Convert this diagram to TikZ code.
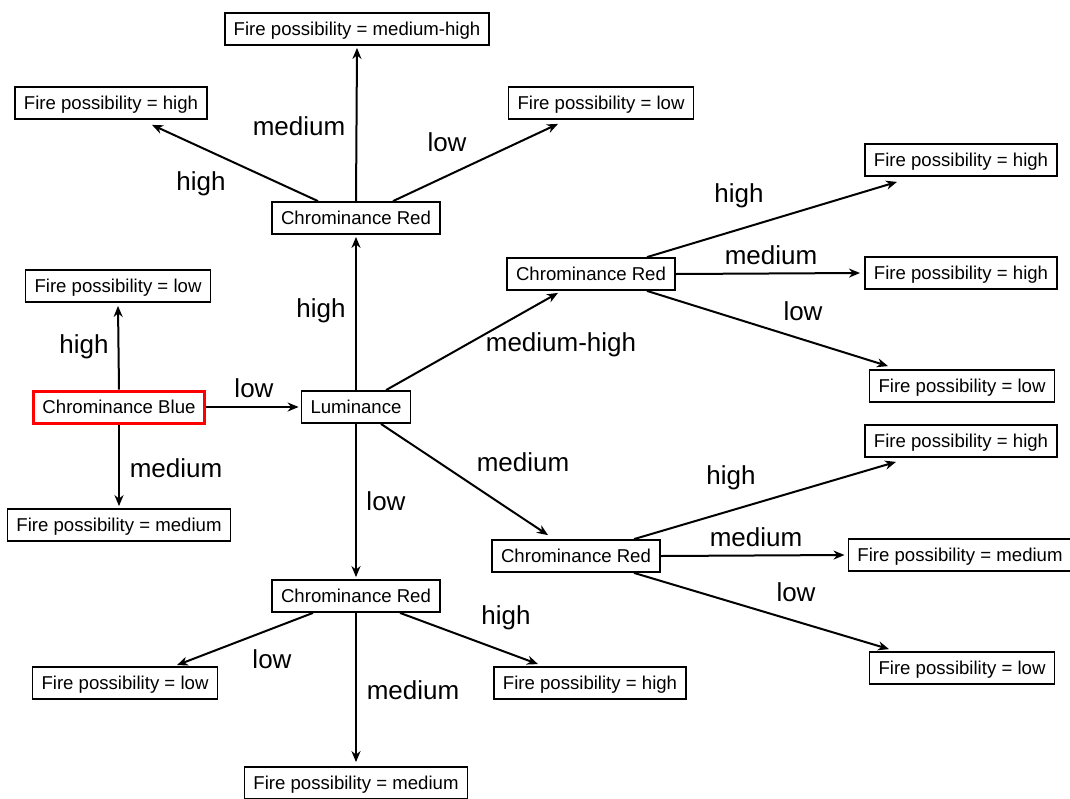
\documentclass[tikz,border=0pt]{standalone}
\usepackage{fontspec}
\setmainfont{Liberation Sans}
\usetikzlibrary{arrows.meta}

\begin{document}
\begin{tikzpicture}[x=1pt,y=-1pt,
  box/.style={draw,line width=1.8pt,font=\fontsize{18.6}{20}\selectfont,
    inner xsep=9pt,inner ysep=0pt,minimum height=32pt,
    text height=14.75pt,text depth=2.75pt},
  root/.style={box,draw=red,line width=3pt},
  edge/.style={line width=2pt,-{Stealth[length=11pt,width=9pt,inset=3.5pt]}},
  lbl/.style={font=\fontsize{26}{28}\selectfont,inner sep=0pt}]
\useasboundingbox (0,0) rectangle (1070,798);

% decision nodes
\node[root] (cb)  at (119,407) {Chrominance Blue};
\node[box]  (lum) at (356,407) {Luminance};
\node[box]  (crT) at (356,218) {Chrominance Red};
\node[box]  (crR) at (591,274) {Chrominance Red};
\node[box]  (crL) at (576,556) {Chrominance Red};
\node[box]  (crB) at (356,596) {Chrominance Red};

% leaves
\node[box] (fLlow)  at (118,286) {Fire possibility = low};
\node[box] (fLmed)  at (119,525) {Fire possibility = medium};
\node[box] (fTmh)   at (357,29)  {Fire possibility = medium-high};
\node[box] (fThigh) at (111,103) {Fire possibility = high};
\node[box] (fTlow)  at (601,103) {Fire possibility = low};
\node[box] (fR1)    at (961,160) {Fire possibility = high};
\node[box] (fR2)    at (961,273) {Fire possibility = high};
\node[box] (fR3)    at (962,386) {Fire possibility = low};
\node[box] (fR4)    at (961,441) {Fire possibility = high};
\node[box] (fR5)    at (960,555) {Fire possibility = medium};
\node[box] (fR6)    at (962,668) {Fire possibility = low};
\node[box] (fBlow)  at (125,683) {Fire possibility = low};
\node[box] (fBhigh) at (590,683) {Fire possibility = high};
\node[box] (fBmed)  at (356,783) {Fire possibility = medium};

% Chrominance Blue branches
\draw[edge] (cb.north) -- ([yshift=-3pt]fLlow.south);
\draw[edge] (cb.south) -- ([yshift=2pt]fLmed.north);
\draw[edge] (cb.east) -- ([xshift=-2pt]lum.west);

% Luminance branches
\draw[edge] (lum.north) -- ([yshift=-2pt]crT.south);
\draw[edge] ([xshift=30pt]lum.north) -- ([xshift=-33pt,yshift=-2pt]crR.south);
\draw[edge] ([xshift=25pt]lum.south) -- ([xshift=-28pt,yshift=4pt]crL.north);
\draw[edge] (lum.south) -- ([yshift=2pt]crB.north);

% upper Chrominance Red
\draw[edge] (crT.north) -- ([yshift=-2pt]fTmh.south);
\draw[edge] ([xshift=-38pt]crT.north) -- ([xshift=41pt,yshift=-5pt]fThigh.south);
\draw[edge] ([xshift=37pt]crT.north) -- ([xshift=-43pt,yshift=-4pt]fTlow.south);

% right Chrominance Red
\draw[edge] ([xshift=56pt]crR.north) -- ([xshift=-64pt,yshift=-5pt]fR1.south);
\draw[edge] (crR.east) -- ([xshift=-4pt]fR2.west);
\draw[edge] ([xshift=56pt]crR.south) -- ([xshift=-74pt,yshift=3pt]fR3.north);

% lower-right Chrominance Red
\draw[edge] ([xshift=58pt]crL.north) -- ([xshift=-65pt,yshift=-4pt]fR4.south);
\draw[edge] (crL.east) -- ([xshift=-3pt]fR5.west);
\draw[edge] ([xshift=58pt]crL.south) -- ([xshift=-73pt,yshift=2pt]fR6.north);

% bottom Chrominance Red
\draw[edge] ([xshift=-43pt]crB.south) -- ([xshift=52pt,yshift=1pt]fBlow.north);
\draw[edge] ([xshift=44pt]crB.south) -- ([xshift=-52pt,yshift=2pt]fBhigh.north);
\draw[edge] (crB.south) -- ([yshift=4pt]fBmed.north);

% branch labels
\node[lbl] (l1)  at (84,347)  {high};
\node[lbl] (l2)  at (254,388) {low};
\node[lbl] (l3)  at (176,468) {medium};
\node[lbl] (l4)  at (321,311) {high};
\node[lbl] (l5)  at (386,501) {low};
\node[lbl] (l6)  at (561,345) {medium-high};
\node[lbl] (l7)  at (523,462) {medium};
\node[lbl] (l8)  at (299,126) {medium};
\node[lbl] (l9)  at (201,184) {high};
\node[lbl] (l10) at (447,142) {low};
\node[lbl] (l11) at (739,196) {high};
\node[lbl] (l12) at (771,255) {medium};
\node[lbl] (l13) at (803,311) {low};
\node[lbl] (l14) at (731,478) {high};
\node[lbl] (l15) at (756,537) {medium};
\node[lbl] (l16) at (796,592) {low};
\node[lbl] (l17) at (506,618) {high};
\node[lbl] (l18) at (272,659) {low};
\node[lbl] (l19) at (413,690) {medium};
\end{tikzpicture}
\end{document}
